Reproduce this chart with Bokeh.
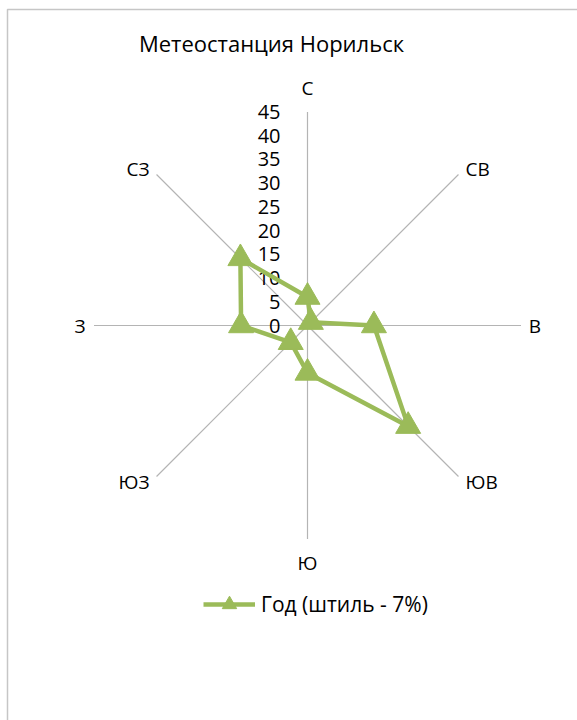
import math
from bokeh.plotting import figure
from bokeh.models import Range1d, Legend, LegendItem, ColumnDataSource
from bokeh.core.properties import value
from bokeh.embed import file_html
from bokeh.resources import INLINE

# Wind rose data, Norilsk station (share of cases, %)
directions = ["С", "СВ", "В", "ЮВ", "Ю", "ЮЗ", "З", "СЗ"]
frequency = [6, 1, 14, 30, 10, 5, 14, 20]
tick_values = [0, 5, 10, 15, 20, 25, 30, 35, 40, 45]
tick_labels = ["0", "5", "10", "15", "20", "25", "30", "35", "40", "45"]
series_name = "Год (штиль - 7%)"
title_text = "Метеостанция Норильск"

W, H = 577, 720
CX, CY = 307, 325            # radar centre on the canvas, px
R_MAX = 45
SCALE = 213.5 / R_MAX        # px per unit
FONT = "Open Sans"
GREEN = "#9bbb59"
SPOKE = "#b4b4b4"


def px(dx):
    return dx / SCALE


p = figure(width=W, height=H, output_backend="svg", toolbar_location=None,
           x_range=Range1d(px(-CX), px(W - CX)),
           y_range=Range1d(px(-(H - CY)), px(CY)),
           min_border=0, x_axis_location=None, y_axis_location=None)
p.grid.visible = False
p.outline_line_color = None
p.background_fill_color = "white"
p.border_fill_color = "white"

# chart frame (left and top edges)
p.line([px(7 - CX), px(7 - CX), px(W + 20 - CX)],
       [px(CY - H - 20), px(CY - 9), px(CY - 9)],
       line_color="#c6c6c6", line_width=1.5)

# spokes
n = len(directions)
angles = [math.pi / 2 - 2 * math.pi * i / n for i in range(n)]
sx0 = [0] * n
sy0 = [0] * n
sx1 = [R_MAX * math.cos(a) for a in angles]
sy1 = [R_MAX * math.sin(a) for a in angles]
p.segment(sx0, sy0, sx1, sy1, line_color=SPOKE, line_width=1.2)

# direction labels
lab_x, lab_y, lab_align = [], [], []
for a, d in zip(angles, directions):
    ex, ey = R_MAX * math.cos(a), R_MAX * math.sin(a)
    c, s = round(math.cos(a), 3), round(math.sin(a), 3)
    if abs(c) < 0.01:          # north / south
        lab_x.append(0)
        lab_y.append(ey + px(24) * (1 if s > 0 else -1))
        lab_align.append("center")
    elif abs(s) < 0.01:        # east / west
        lab_x.append(ex + px(14) * (1 if c > 0 else -1))
        lab_y.append(0)
        lab_align.append("center")
    else:                      # diagonals
        lab_x.append(ex + px(7) * (1 if c > 0 else -1))
        lab_y.append(ey + px(6) * (1 if s > 0 else -1))
        lab_align.append("left" if c > 0 else "right")
p.text(x=lab_x, y=lab_y, text=directions, text_align=lab_align,
       text_baseline="middle", text_font=value(FONT),
       text_font_size="19px", text_color="#000000")

# radial tick labels along the north spoke
p.text(x=[px(-27)] * len(tick_values), y=tick_values, text=tick_labels,
       text_align="right", text_baseline="middle", text_font=value(FONT),
       text_font_size="20px", text_color="#000000")

# data polygon
xs = [v * math.cos(a) for v, a in zip(frequency, angles)]
ys = [v * math.sin(a) for v, a in zip(frequency, angles)]
src = ColumnDataSource(dict(x=xs + xs[:1], y=ys + ys[:1]))
r_line = p.line("x", "y", source=src, line_color=GREEN, line_width=4.5,
                line_join="round")
r_mark = p.scatter(xs, ys, marker="triangle", size=25,
                   fill_color=GREEN, line_color=GREEN)

# title
p.text(x=[px(271 - CX)], y=[px(CY - 42)], text=[title_text],
       text_align="center", text_baseline="middle",
       text_font=value(FONT), text_font_size="22px", text_color="#000000")

legend = Legend(items=[LegendItem(label=series_name, renderers=[r_line, r_mark])],
                location=(203, 98), orientation="horizontal",
                glyph_width=52, glyph_height=36, label_standoff=6,
                padding=0, margin=0, border_line_alpha=0,
                background_fill_alpha=0,
                label_text_font=FONT, label_text_font_size="21px",
                label_text_color="#000000")
p.add_layout(legend, "center")

open("out.html", "w").write(file_html(p, INLINE))
